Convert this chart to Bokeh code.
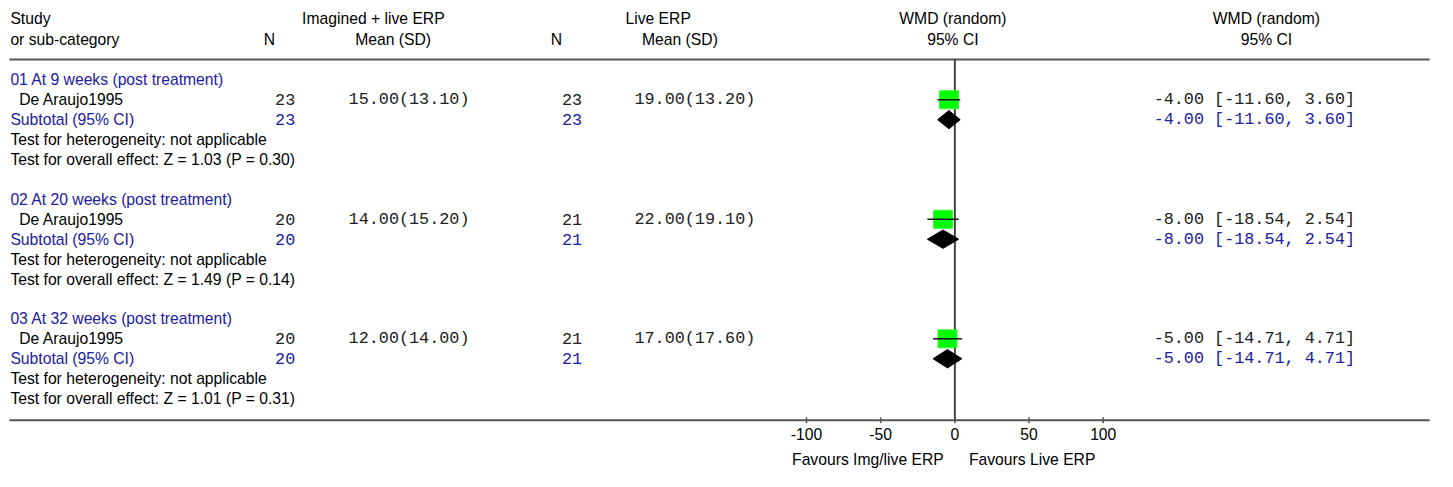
from bokeh.plotting import figure
from bokeh.models import Range1d
from bokeh.core.properties import value
from bokeh.embed import file_html
from bokeh.resources import INLINE

# ---------------- data ----------------
group_labels = ["01 At 9 weeks (post treatment)",
                "02 At 20 weeks (post treatment)",
                "03 At 32 weeks (post treatment)"]
study_names = ["De Araujo1995", "De Araujo1995", "De Araujo1995"]
n_img = [23, 20, 20]
mean_img = [15.00, 14.00, 12.00]
sd_img = [13.10, 15.20, 14.00]
n_live = [23, 21, 21]
mean_live = [19.00, 22.00, 17.00]
sd_live = [13.20, 19.10, 17.60]
wmd = [-4.00, -8.00, -5.00]
ci_lo = [-11.60, -18.54, -14.71]
ci_hi = [3.60, 2.54, 4.71]
z_vals = [1.03, 1.49, 1.01]
p_vals = [0.30, 0.14, 0.31]
axis_ticks = [-100, -50, 0, 50, 100]

# ---------------- layout helpers ----------------
REF_W, REF_H = 1453, 487          # layout designed in a 1453x487 space
ROW0, ROWH = 82.0, 20.6           # centre of first row, row pitch
def row_at(py):
    return (py - ROW0) / ROWH

W, H = 1437, 471
ZERO_PX, PX_PER_UNIT = 965.0, 1.5

SANS = value("Liberation Sans")
MONO = value("Liberation Mono")
BLUE = "#2020A0"
BLACK = "#000000"
DARK = "#202020"
GREY = "#555555"
FS = "15.7px"
MS = "16.8px"

p = figure(width=W, height=H,
           x_range=Range1d(0, REF_W),
           y_range=Range1d(row_at(REF_H), row_at(0)),
           x_axis_type=None, y_axis_type=None,
           output_backend="svg", toolbar_location=None,
           min_border=0, outline_line_color=None)
p.extra_x_ranges = {"wmd": Range1d((0 - ZERO_PX) / PX_PER_UNIT,
                                   (REF_W - ZERO_PX) / PX_PER_UNIT)}
for g in p.grid:
    g.visible = False
p.background_fill_color = "white"
p.border_fill_color = "white"


def txt(x, y, s, color=BLACK, font=SANS, size=FS, align="left", xr="default"):
    p.text(x=[x], y=[y], text=[s], text_color=color, text_font=font,
           text_font_size=size, text_align=align, text_baseline="middle",
           x_range_name=xr)


# ---------------- header ----------------
h1, h2 = row_at(19), row_at(40)
txt(10, h1, "Study")
txt(10, h2, "or sub-category")
txt(272, h2, "N", align="center")
txt(377, h1, "Imagined + live ERP", align="center")
txt(397, h2, "Mean (SD)", align="center")
txt(562, h2, "N", align="center")
txt(665, h1, "Live ERP", align="center")
txt(687, h2, "Mean (SD)", align="center")
txt(963, h1, "WMD (random)", align="center")
txt(963, h2, "95% CI", align="center")
txt(1280, h1, "WMD (random)", align="center")
txt(1280, h2, "95% CI", align="center")

top_rule = row_at(61)
bot_rule = row_at(434)
p.segment(x0=[9], x1=[1445], y0=[top_rule], y1=[top_rule], line_color=GREY, line_width=2)
p.segment(x0=[9], x1=[1445], y0=[bot_rule], y1=[bot_rule], line_color=GREY, line_width=2)

# zero line
p.segment(x0=[0], x1=[0], y0=[top_rule], y1=[bot_rule], line_color="#444444",
          line_width=2, x_range_name="wmd")

# ---------------- rows ----------------
for g in range(3):
    base = 6 * g
    r_lab, r_st, r_sub, r_het, r_all = base, base + 1, base + 2, base + 3, base + 4
    txt(10, r_lab, group_labels[g], color=BLUE)
    txt(19, r_st, study_names[g])
    txt(10, r_sub, "Subtotal (95% CI)", color=BLUE)
    txt(10, r_het, "Test for heterogeneity: not applicable")
    txt(10, r_all, "Test for overall effect: Z = %.2f (P = %.2f)" % (z_vals[g], p_vals[g]))

    txt(298, r_st, "%d" % n_img[g], font=MONO, size=MS, align="right", color=DARK)
    txt(298, r_sub, "%d" % n_img[g], font=MONO, size=MS, align="right", color=BLUE)
    txt(352, r_st, "%.2f(%.2f)" % (mean_img[g], sd_img[g]), font=MONO, size=MS, color=DARK)
    txt(588, r_st, "%d" % n_live[g], font=MONO, size=MS, align="right", color=DARK)
    txt(588, r_sub, "%d" % n_live[g], font=MONO, size=MS, align="right", color=BLUE)
    txt(641, r_st, "%.2f(%.2f)" % (mean_live[g], sd_live[g]), font=MONO, size=MS, color=DARK)

    ci_txt = "%.2f [%.2f, %.2f]" % (wmd[g], ci_lo[g], ci_hi[g])
    txt(1166, r_st, ci_txt, font=MONO, size=MS, color=DARK)
    txt(1166, r_sub, ci_txt, font=MONO, size=MS, color=BLUE)

    # study square + CI
    p.rect(x=[wmd[g]], y=[r_st], width=19, height=18, width_units="screen",
           height_units="screen", fill_color="#00FF00", line_color="#33FF33",
           x_range_name="wmd")
    p.segment(x0=[ci_lo[g]], x1=[ci_hi[g]], y0=[r_st], y1=[r_st],
              line_color="#111111", line_width=1.5, x_range_name="wmd")
    # subtotal diamond
    p.patch(x=[ci_lo[g], wmd[g], ci_hi[g], wmd[g]],
            y=[r_sub, r_sub - 0.46, r_sub, r_sub + 0.46],
            fill_color="black", line_color="black", line_width=1,
            x_range_name="wmd")

# ---------------- axis ticks ----------------
tk_top, tk_bot = row_at(431), row_at(437)
p.segment(x0=axis_ticks, x1=axis_ticks, y0=[tk_top] * 5, y1=[tk_bot] * 5,
          line_color=GREY, line_width=1.5, x_range_name="wmd")
p.text(x=axis_ticks, y=[row_at(448)] * 5, text=[str(t) for t in axis_ticks],
       text_font=SANS, text_font_size=FS, text_align="center",
       text_baseline="middle", text_color=BLACK, x_range_name="wmd")

fav_y = row_at(475)
txt(-7.5, fav_y, "Favours Img/live ERP", align="right", xr="wmd")
txt(9.5, fav_y, "Favours Live ERP", align="left", xr="wmd")

open("out.html", "w").write(file_html(p, INLINE))
